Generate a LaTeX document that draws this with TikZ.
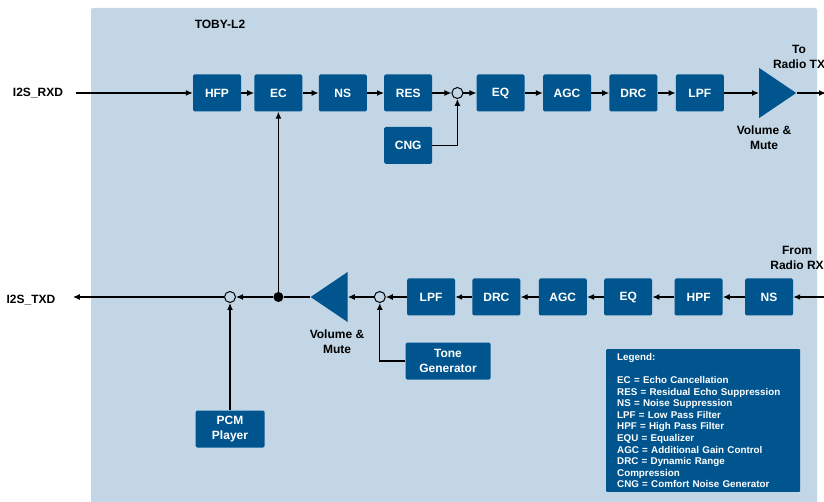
\documentclass[tikz,border=0pt]{standalone}
\usepackage{fontspec}
\setmainfont{Liberation Sans}
\usepackage{xcolor}
\definecolor{PanelBlue}{HTML}{C2D6E6}
\definecolor{BoxBlue}{HTML}{00558F}
\usetikzlibrary{arrows.meta,positioning,calc,shapes.geometric}

\begin{document}
\begin{tikzpicture}[x=1pt, y=-1pt,
  font=\bfseries\fontsize{12}{15}\selectfont,
  box/.style={fill=BoxBlue, text=white, rounded corners=1.5pt, align=center,
              minimum width=48pt, minimum height=37pt, inner sep=2pt},
  arr/.style={-{Latex[length=7pt,width=6pt]}, line width=1.2pt},
  mix/.style={circle, draw, fill=PanelBlue, line width=1pt,
              minimum size=11pt, inner sep=0pt},
  jdot/.style={circle, fill=black, minimum size=10pt, inner sep=0pt},
  amp/.style={isosceles triangle, isosceles triangle stretches, fill=BoxBlue,
              inner sep=0pt, minimum width=50pt, minimum height=37pt},
  lbl/.style={align=center}
]
  \useasboundingbox (0,0) rectangle (824,502);
  \fill[PanelBlue, rounded corners=2pt] (91,8) rectangle (817,512);
  \node (toby) at (220,24) {TOBY-L2};

  % uplink path
  \node (rxd) at (38,93) {I2S\_RXD};
  \node[box] (hfp) at (217,93) {HFP};
  \node[box, right=13pt of hfp] (ec) {EC};
  \node[box, right=16pt of ec] (ns) {NS};
  \node[box, right=17pt of ns] (res) {RES};
  \node[mix, right=19pt of res] (mixa) {};
  \node[box, right=13pt of mixa] (eq) {EQ};
  \node[box, right=18pt of eq] (agc) {AGC};
  \node[box, right=18pt of agc] (drc) {DRC};
  \node[box, right=18pt of drc] (lpf) {LPF};
  \node[amp, right=35pt of lpf] (volA) {};
  \node[box, below=15pt of res] (cng) {CNG};
  \node[lbl] (volAtxt) at (764,138) {Volume \&\\Mute};
  \node[lbl] (totx) at (799,57) {To\\Radio TX};
  \coordinate (txout) at (826,93);

  \draw[arr] ([xshift=9pt]rxd.east) -- (hfp);
  \draw[arr] (hfp) -- (ec);
  \draw[arr] (ec) -- (ns);
  \draw[arr] (ns) -- (res);
  \draw[arr] (res) -- (mixa);
  \draw[arr] (mixa) -- (eq);
  \draw[arr] (eq) -- (agc);
  \draw[arr] (agc) -- (drc);
  \draw[arr] (drc) -- (lpf);
  \draw[arr] (lpf) -- (volA);
  \draw[arr] (volA) -- (txout);
  \draw[arr] (cng.east) -| (mixa);

  % downlink path
  \node[box] (nsb) at (769,297) {NS};
  \node[box, left=22pt of nsb] (hpfb) {HPF};
  \node[box, left=22pt of hpfb] (eqb) {EQ};
  \node[box, left=17pt of eqb] (agcb) {AGC};
  \node[box, left=18pt of agcb] (drcb) {DRC};
  \node[box, left=17pt of drcb] (lpfb) {LPF};
  \node[mix, left=21pt of lpfb] (mixb) {};
  \node[amp, shape border rotate=180, left=26pt of mixb] (volB) {};
  \node[jdot] (junc) at (ec.south |- mixb) {};
  \node[mix] (mixc) at (230,297) {};
  \node (txd) at (31,300) {I2S\_TXD};
  \node[box, minimum width=85pt] (tone) at (448,361) {Tone\\Generator};
  \node[box, minimum width=69pt] (pcm) at (230,429) {PCM\\Player};
  \node[lbl] (volBtxt) at (337,342) {Volume \&\\Mute};
  \node[lbl] (fromrx) at (797,258) {From\\Radio RX};
  \coordinate (rxin) at (826,297);

  \draw[arr] (rxin) -- (nsb);
  \draw[arr] (nsb) -- (hpfb);
  \draw[arr] (hpfb) -- (eqb);
  \draw[arr] (eqb) -- (agcb);
  \draw[arr] (agcb) -- (drcb);
  \draw[arr] (drcb) -- (lpfb);
  \draw[arr] (lpfb) -- (mixb);
  \draw[arr] (mixb) -- (volB);
  \draw[line width=1.2pt] (volB) -- (junc);
  \draw[arr] (junc) -- (mixc);
  \draw[arr] (mixc) -- ([xshift=14pt]txd.east |- mixc);
  \draw[arr] (junc) -- (ec);
  \draw[arr] (tone.west) -| (mixb);
  \draw[arr] (pcm) -- (mixc);

  % legend
  \node[fill=BoxBlue, text=white, rounded corners=1pt, anchor=north west,
        text width=172pt, inner xsep=11pt, inner ysep=4pt, align=left,
        font=\bfseries\fontsize{9.8}{11.6}\selectfont] (legend) at (606,349)
    {Legend:\\[11.6pt]
     EC = Echo Cancellation\\
     RES = Residual Echo Suppression\\
     NS = Noise Suppression\\
     LPF = Low Pass Filter\\
     HPF = High Pass Filter\\
     EQU = Equalizer\\
     AGC = Additional Gain Control\\
     DRC = Dynamic Range\\
     Compression\\
     CNG = Comfort Noise Generator};
\end{tikzpicture}
\end{document}
